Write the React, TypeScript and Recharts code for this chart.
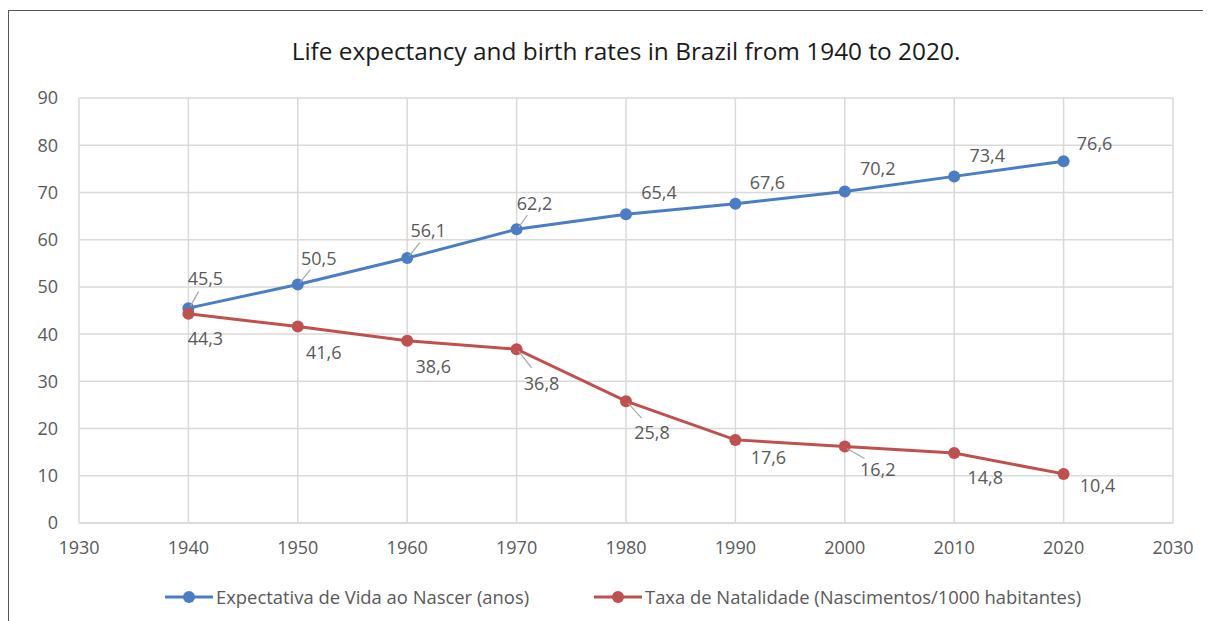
import React from "react";
import { LineChart, Line, XAxis, YAxis, CartesianGrid, LabelList } from "recharts";

const years = [1940, 1950, 1960, 1970, 1980, 1990, 2000, 2010, 2020];
const lifeExpectancy = [45.5, 50.5, 56.1, 62.2, 65.4, 67.6, 70.2, 73.4, 76.6];
const birthRate = [44.3, 41.6, 38.6, 36.8, 25.8, 17.6, 16.2, 14.8, 10.4];
const xTicks = [1930, 1940, 1950, 1960, 1970, 1980, 1990, 2000, 2010, 2020, 2030];
const yTicks = [0, 10, 20, 30, 40, 50, 60, 70, 80, 90];

const seriesNames = {
  life: "Expectativa de Vida ao Nascer (anos)",
  birth: "Taxa de Natalidade (Nascimentos/1000 habitantes)",
};

// label placement (dx, dy, leader line) like the Excel original
const lifeLabelPos: [number, number, boolean][] = [
  [17, -30, true], [21, -27, true], [21, -28, true], [18, -26, true],
  [33, -22, false], [32, -22, false], [33, -24, false], [33, -21, false], [31, -18, false],
];
const birthLabelPos: [number, number, boolean][] = [
  [17, 24, false], [26, 25, false], [26, 25, false], [25, 34, true],
  [26, 31, true], [33, 17, false], [33, 22, true], [31, 24, false], [34, 11, false],
];

const BLUE = "#4a7dc4";
const RED = "#c0504d";
const GRID = "#d9d9d9";
const TEXT = "#595959";
const FONT = "'Open Sans', sans-serif";

const data = years.map((year, i) => ({
  year,
  life: lifeExpectancy[i],
  birth: birthRate[i],
}));

const fmt = (v: number) => v.toFixed(1).replace(".", ",");

function makeLabel(pos: [number, number, boolean][]) {
  return (props: any) => {
    const { x, y, value, index } = props;
    const [dx, dy, leader] = pos[index];
    return (
      <g>
        {leader && (
          <line
            x1={x + 2}
            y1={y + (dy < 0 ? -2 : 2)}
            x2={x + dx * 0.6}
            y2={y + dy * 0.55}
            stroke="#a6a6a6"
            strokeWidth={1.2}
          />
        )}
        <text
          x={x + dx}
          y={y + dy}
          textAnchor="middle"
          dominantBaseline="central"
          fill={TEXT}
          fontSize={18}
          fontFamily={FONT}
        >
          {fmt(value)}
        </text>
      </g>
    );
  };
}

function LegendItem({ color, label, left }: { color: string; label: string; left: number }) {
  return (
    <div style={{ position: "absolute", left, top: 0, display: "flex", alignItems: "center", gap: 3 }}>
      <svg width={48} height={14}>
        <line x1={0} y1={7} x2={48} y2={7} stroke={color} strokeWidth={3} />
        <circle cx={24} cy={7} r={6} fill={color} />
      </svg>
      <span style={{ color: TEXT, fontSize: 18.4, fontFamily: FONT, whiteSpace: "nowrap" }}>{label}</span>
    </div>
  );
}

export default function App() {
  return (
    <div style={{ paddingTop: 2 }}>
      <div
        style={{
          position: "relative",
          width: 1195,
          height: 620,
          border: "1px solid #555",
          background: "#fff",
        }}
      >
        <div
          style={{
            position: "absolute",
            left: 70,
            width: 1094,
            top: 23,
            textAlign: "center",
            fontSize: 24.4,
            fontFamily: FONT,
            color: "#1a1a1a",
          }}
        >
          Life expectancy and birth rates in Brazil from 1940 to 2020.
        </div>
        <div style={{ position: "absolute", left: 0, top: 0 }}>
          <LineChart
            width={1195}
            height={608}
            data={data}
            margin={{ top: 87, right: 31, left: 0, bottom: 66 }}
          >
            <CartesianGrid stroke={GRID} strokeWidth={1.5} verticalValues={xTicks} horizontalValues={yTicks} />
            <XAxis
              dataKey="year"
              type="number"
              domain={[1930, 2030]}
              ticks={xTicks}
              tickLine={false}
              tickSize={0}
              tickMargin={18}
              axisLine={{ stroke: GRID, strokeWidth: 1.5 }}
              tick={{ fill: TEXT, fontSize: 18, fontFamily: FONT }}
              height={30}
            />
            <YAxis
              type="number"
              domain={[0, 90]}
              ticks={yTicks}
              tickLine={false}
              tickSize={0}
              tickMargin={21}
              axisLine={false}
              width={70}
              tick={{ fill: TEXT, fontSize: 18, fontFamily: FONT }}
            />
            <Line
              dataKey="life"
              name={seriesNames.life}
              stroke={BLUE}
              strokeWidth={3}
              dot={{ r: 6, fill: BLUE, stroke: BLUE, strokeWidth: 0 }}
              isAnimationActive={false}
            >
              <LabelList dataKey="life" content={makeLabel(lifeLabelPos)} />
            </Line>
            <Line
              dataKey="birth"
              name={seriesNames.birth}
              stroke={RED}
              strokeWidth={3}
              dot={{ r: 6, fill: RED, stroke: RED, strokeWidth: 0 }}
              isAnimationActive={false}
            >
              <LabelList dataKey="birth" content={makeLabel(birthLabelPos)} />
            </Line>
          </LineChart>
        </div>
        <div style={{ position: "absolute", top: 573, left: 0, width: 1195, height: 26 }}>
          <LegendItem color={BLUE} label={seriesNames.life} left={156} />
          <LegendItem color={RED} label={seriesNames.birth} left={585} />
        </div>
      </div>
    </div>
  );
}
